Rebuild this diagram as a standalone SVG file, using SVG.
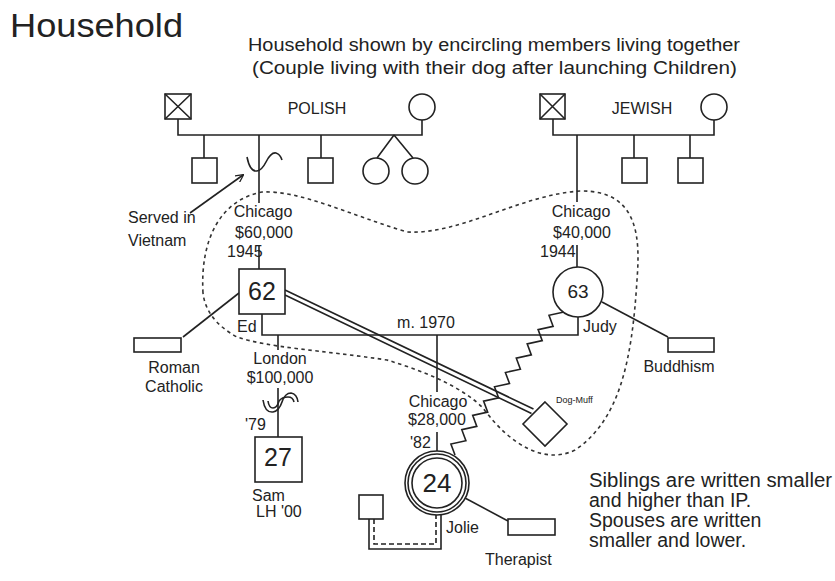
<svg xmlns="http://www.w3.org/2000/svg" width="835" height="581" viewBox="0 0 835 581">
<style>
text{font-family:"Liberation Sans",Arial,sans-serif;fill:#222}
.lb{font-size:16px}
.c{text-anchor:middle}
.nt{font-size:19.5px}
.ln{stroke:#222;stroke-width:1.6;fill:none}
.sh{stroke:#222;stroke-width:1.6;fill:#fff}
.dot{stroke:#333;stroke-width:1.6;fill:none;stroke-dasharray:3.5 3.5}
.dash{stroke:#222;stroke-width:1.6;fill:none;stroke-dasharray:5 3}
</style>
<defs>
<marker id="arr" viewBox="0 0 10 10" refX="9" refY="5" markerWidth="8" markerHeight="8" orient="auto" markerUnits="userSpaceOnUse">
<path d="M0,0 L10,5 L0,10" fill="none" stroke="#222" stroke-width="1.6"/>
</marker>
</defs>
<rect width="835" height="581" fill="#fff"/>
<text x="10" y="37" font-size="34" textLength="173" lengthAdjust="spacingAndGlyphs">Household</text>
<text x="248" y="51" font-size="17.5" textLength="492" lengthAdjust="spacingAndGlyphs">Household shown by encircling members living together</text>
<text x="252" y="74" font-size="17.5" textLength="485" lengthAdjust="spacingAndGlyphs">(Couple living with their dog after launching Children)</text>

<g id="household">
<path class="dot" d="M203,293 C200,240 220,200 262,192 C300,190 350,215 407,232 C460,235 520,195 580,191 C640,190 640,240 637,280 C632,360 620,420 575,450 C545,465 510,445 483,408 C460,385 420,370 387,360 C320,350 270,348 237,337 C215,325 205,310 203,293 Z"/>
</g>

<g id="connectors">
<path class="ln" d="M178,119 V135 H422 V120"/>
<path class="ln" d="M204,135 V158 M259,135 V203 M321,135 V158 M394,135 L377,158 M394,135 L413,158"/>
<path class="ln" d="M553,119 V135 H714 V120"/>
<path class="ln" d="M577,135 V202 M634,135 V158 M690,135 V158"/>
<path class="ln" d="M259,245 V269 M577,245 V267"/>
<path class="ln" d="M262,314 V335 H578 V317"/>
<path class="ln" d="M278,335 V350 M278,388 V437"/>
<path class="ln" d="M437,335 V392 M437,432 V451"/>
<path class="ln" d="M239,293 L183,337"/>
<path class="ln" d="M602,302 L668,337"/>
<path class="ln" d="M465,498 L508,521"/>
<path class="ln" d="M369,519 V549 H441 V514"/>
<path class="dash" d="M374,519 V544 H436 V515"/>
<path class="ln" stroke-width="1.3" d="M285,290 L533.5,409 M285,295 L531.5,413.5"/>
<path class="ln" stroke-width="1.4" d="M564,312 l-15,3.3 l4.1,11 l-15,3.3 l4.1,11 l-15,3.3 l4.1,11 l-15,3.3 l4.1,11 l-15,3.3 l4.1,11 l-15,3.3 l4.1,11 l-15,3.3 l4.1,11 l-15,3.3 l4.1,11 l-15,3.3 l4.1,11 l-15,3.3 l4.1,11"/>
<path class="ln" d="M190,213 L243,175" marker-end="url(#arr)"/>
<path class="ln" d="M247,157 Q250,172 257,171 Q262,170 266,162 Q271,152 276,153 Q280,154 282,160"/>
<path class="ln" stroke-width="1.3" d="M263,400 Q265,413 273,412 Q279,411 282,402 Q285,393 291,393 Q297,394 298,402"/>
<path class="ln" stroke-width="1.3" d="M268,401 Q269,408 273,408 Q277,408 279,401 Q282,397 288,397 Q293,397 294,402"/>
</g>

<g id="polish-grandfather">
<rect class="sh" x="165" y="94" width="26" height="25"/>
<path class="ln" d="M165,94 L191,119 M191,94 L165,119"/>
</g>
<g id="polish-grandmother"><circle class="sh" cx="422" cy="107" r="13"/></g>
<text class="lb c" x="317" y="114">POLISH</text>
<g id="polish-son1"><rect class="sh" x="192" y="158" width="25" height="25"/></g>
<g id="polish-son2"><rect class="sh" x="308" y="158" width="25" height="25"/></g>
<g id="polish-twin1"><circle class="sh" cx="376" cy="171" r="13"/></g>
<g id="polish-twin2"><circle class="sh" cx="415" cy="171" r="13"/></g>

<g id="jewish-grandfather">
<rect class="sh" x="540" y="94" width="25" height="25"/>
<path class="ln" d="M540,94 L565,119 M565,94 L540,119"/>
</g>
<g id="jewish-grandmother"><circle class="sh" cx="714" cy="107" r="13"/></g>
<text class="lb c" x="642" y="114">JEWISH</text>
<g id="jewish-son1"><rect class="sh" x="622" y="158" width="25" height="25"/></g>
<g id="jewish-son2"><rect class="sh" x="678" y="158" width="25" height="25"/></g>

<g id="served">
<text class="lb" x="128" y="223">Served in</text>
<text class="lb" x="128" y="246">Vietnam</text>
</g>

<g id="ed">
<text class="lb c" x="263" y="217">Chicago</text>
<text class="lb c" x="264" y="238">$60,000</text>
<text class="lb" x="227" y="257">1945</text>
<rect class="sh" x="239" y="269" width="46" height="45"/>
<text class="c" x="262" y="300" font-size="25">62</text>
<text class="lb" x="237" y="332">Ed</text>
</g>

<g id="judy">
<text class="lb c" x="581" y="217">Chicago</text>
<text class="lb c" x="582" y="238">$40,000</text>
<text class="lb" x="540" y="257">1944</text>
<circle class="sh" cx="578" cy="292" r="25"/>
<text class="c" x="578" y="298" font-size="19">63</text>
<text class="lb" x="583" y="332">Judy</text>
</g>

<text class="lb c" x="426" y="328">m. 1970</text>

<g id="roman-catholic">
<rect class="sh" x="134" y="338" width="47" height="14"/>
<text class="lb c" x="174" y="373">Roman</text>
<text class="lb c" x="174" y="392">Catholic</text>
</g>

<g id="buddhism">
<rect class="sh" x="668" y="338" width="46" height="14"/>
<text class="lb c" x="679" y="372">Buddhism</text>
</g>

<g id="sam">
<text class="lb c" x="280" y="364">London</text>
<text class="lb c" x="280" y="383">$100,000</text>
<text class="lb" x="245" y="430">'79</text>
<rect class="sh" x="255" y="437" width="47" height="45"/>
<text class="c" x="278" y="466" font-size="25">27</text>
<text class="lb" x="252" y="501">Sam</text>
<text class="lb" x="256" y="517">LH '00</text>
</g>

<g id="dog-muff">
<polygon class="sh" points="545,402 567,424 545,446 523,424"/>
<text x="556" y="403" font-size="9">Dog-Muff</text>
</g>

<g id="jolie">
<text class="lb c" x="438" y="407">Chicago</text>
<text class="lb c" x="437" y="425">$28,000</text>
<text class="lb" x="410" y="448">'82</text>
<circle class="sh" cx="437" cy="483" r="32"/>
<circle class="ln" cx="437" cy="483" r="29"/>
<circle class="ln" cx="437" cy="483" r="25"/>
<text class="c" x="437" y="492" font-size="26">24</text>
<text class="lb" x="446" y="533">Jolie</text>
</g>

<g id="partner"><rect class="sh" x="359" y="495" width="24" height="24"/></g>

<g id="therapist">
<rect class="sh" x="508" y="519" width="47" height="16"/>
<text class="lb" x="485" y="565">Therapist</text>
</g>

<g id="notes">
<text class="nt" x="589" y="487" textLength="243" lengthAdjust="spacingAndGlyphs">Siblings are written smaller</text>
<text class="nt" x="589" y="507">and higher than IP.</text>
<text class="nt" x="589" y="527">Spouses are written</text>
<text class="nt" x="589" y="547">smaller and lower.</text>
</g>
</svg>
